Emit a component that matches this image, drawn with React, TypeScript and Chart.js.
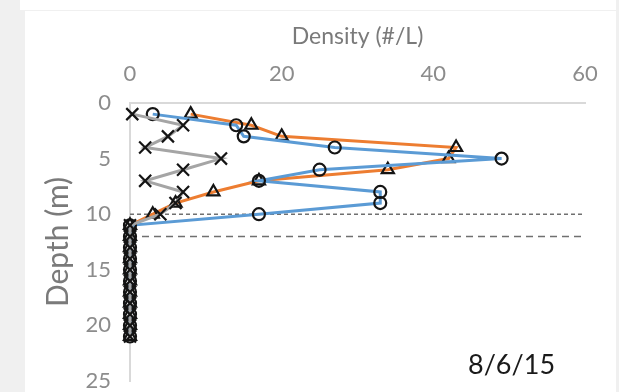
import React, { useEffect, useRef } from "react";
import { Chart, registerables } from "chart.js";

Chart.register(...registerables);

// Depth (m) of each sample
const depths = [1, 2, 3, 4, 5, 6, 7, 8, 9, 10, 11, 12, 13, 14, 15, 16, 17, 18, 19, 20, 21];
// Density (#/L) per series
const orangeDensity = [8, 16, 20, 43, 42, 34, 17, 11, 6, 3, 0, 0, 0, 0, 0, 0, 0, 0, 0, 0, 0];
const blueDensity = [3, 14, 15, 27, 49, 25, 17, 33, 33, 17, 0, 0, 0, 0, 0, 0, 0, 0, 0, 0, 0];
const grayDensity = [0.3, 7, 5, 2, 12, 7, 2, 7, 6, 4, 0, 0, 0, 0, 0, 0, 0, 0, 0, 0, 0];
// Reference depths (m)
const dottedDepth = 10;
const dashedDepth = 12;
const xRange = [0, 60];
const xTicks = [0, 20, 40, 60];
const yTicks = [0, 5, 10, 15, 20, 25];
const xTitle = "Density (#/L)";
const yTitle = "Depth (m)";
const dateLabel = "8/6/15";

const FONT = "Lato";

export default function App() {
  const ref = useRef<HTMLCanvasElement | null>(null);

  useEffect(() => {
    if (!ref.current) return;
    const toPts = (arr: number[]) => depths.map((d, i) => ({ x: arr[i], y: d }));
    const marker = {
      pointBorderColor: "#141414",
      pointBackgroundColor: "rgba(0,0,0,0)",
      pointBorderWidth: 2.2,
      pointHoverRadius: 0,
      clip: 14,
    };
    const chart = new Chart(ref.current, {
      type: "scatter",
      data: {
        datasets: [
          {
            label: "gray",
            data: toPts(grayDensity),
            showLine: true,
            borderColor: "#A5A5A5",
            borderWidth: 3,
            pointStyle: "crossRot",
            pointRadius: 8.5,
            ...marker,
            order: 1,
          },
          {
            label: "blue",
            data: toPts(blueDensity),
            showLine: true,
            borderColor: "#5B9BD5",
            borderWidth: 3,
            pointStyle: "circle",
            pointRadius: 6,
            ...marker,
            order: 2,
          },
          {
            label: "orange",
            data: toPts(orangeDensity),
            showLine: true,
            borderColor: "#ED7D31",
            borderWidth: 3,
            pointStyle: "triangle",
            pointRadius: 7,
            ...marker,
            order: 3,
          },
          {
            label: "dotted",
            data: xRange.map((x) => ({ x, y: dottedDepth })),
            showLine: true,
            borderColor: "#707070",
            borderWidth: 1.5,
            borderDash: [4, 3],
            pointRadius: 0,
            order: 4,
          },
          {
            label: "dashed",
            data: xRange.map((x) => ({ x, y: dashedDepth })),
            showLine: true,
            borderColor: "#707070",
            borderWidth: 1.5,
            borderDash: [7, 5],
            pointRadius: 0,
            order: 5,
          },
        ],
      },
      options: {
        animation: false,
        responsive: false,
        maintainAspectRatio: false,
        layout: { padding: { left: 0, top: 0, right: 34, bottom: 11 } },
        plugins: { legend: { display: false }, tooltip: { enabled: false } },
        scales: {
          x: {
            type: "linear",
            position: "top",
            min: xRange[0],
            max: xRange[1],
            afterFit: (s: any) => {
              s.height = 103;
              s.paddingLeft = 0;
              s.paddingRight = 0;
            },
            afterBuildTicks: (s: any) => {
              s.ticks = xTicks.map((v) => ({ value: v }));
            },
            grid: { display: false, drawTicks: false },
            border: { display: true, color: "#d9d9d9", width: 2 },
            ticks: {
              padding: 16,
              color: "#8c8c8c",
              font: { family: FONT, size: 22 },
            },
            title: {
              display: true,
              text: xTitle,
              color: "#7a7a7a",
              font: { family: FONT, size: 23 },
              padding: { top: 23, bottom: 0 },
            },
          },
          y: {
            type: "linear",
            reverse: true,
            min: 0,
            max: 25,
            afterFit: (s: any) => {
              s.width = 130;
              s.paddingTop = 0;
              s.paddingBottom = 0;
            },
            afterBuildTicks: (s: any) => {
              s.ticks = yTicks.map((v) => ({ value: v }));
            },
            grid: { display: false, drawTicks: false },
            border: { display: true, color: "#d9d9d9", width: 2 },
            ticks: {
              padding: 19,
              color: "#8c8c8c",
              font: { family: FONT, size: 22, lineHeight: 1 },
            },
            title: {
              display: true,
              text: yTitle,
              color: "#7a7a7a",
              font: { family: FONT, size: 30 },
              padding: { top: 40, bottom: 0 },
            },
          },
        },
      },
    });
    return () => chart.destroy();
  }, []);

  return (
    <div
      style={{
        position: "fixed",
        left: 0,
        top: 0,
        width: 619,
        height: 392,
        background: "#f0f0f0",
        overflow: "hidden",
      }}
    >
      <div style={{ position: "absolute", left: 20, top: 0, width: 596, height: 10, background: "#fff" }} />
      <div style={{ position: "absolute", left: 25, top: 11, width: 591, height: 381, background: "#fff" }} />
      <canvas
        ref={ref}
        width={619}
        height={392}
        style={{ position: "absolute", left: 0, top: 0, width: 619, height: 392 }}
      />
      <div
        style={{
          position: "absolute",
          left: 468,
          top: 350,
          fontFamily: FONT,
          fontSize: 27,
          lineHeight: "28px",
          color: "#1a1a1a",
          whiteSpace: "nowrap",
        }}
      >
        {dateLabel}
      </div>
    </div>
  );
}
